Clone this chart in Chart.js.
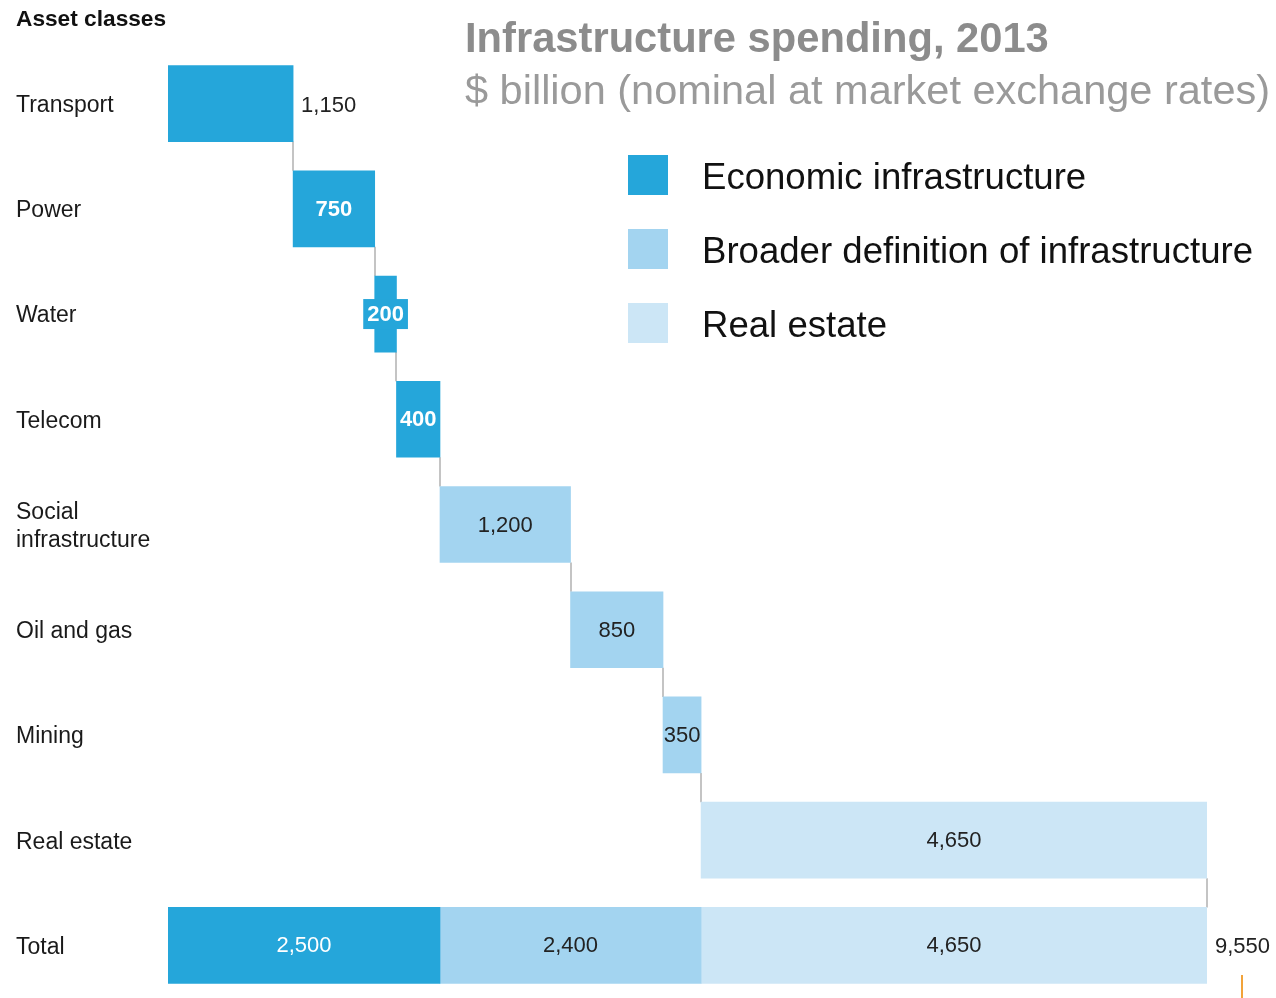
<!DOCTYPE html>
<html>
<head>
<meta charset="utf-8">
<script src="https://cdn.jsdelivr.net/npm/chart.js@4.4.1/dist/chart.umd.min.js"></script>
<style>
  html, body { margin: 0; padding: 0; background: #fff; }
  #wrap { width: 1276px; height: 998px; }
</style>
</head>
<body>
<div id="wrap"><canvas id="grafica" width="1276" height="998"></canvas></div>
<script>
// Asset classes, top to bottom
const categories = ['Transport', 'Power', 'Water', 'Telecom', ['Social', 'infrastructure'], 'Oil and gas', 'Mining', 'Real estate', 'Total'];
// $ billion per class, grouped by series
const economicValues = [1150, 750, 200, 400];
const broaderValues = [1200, 850, 350];
const realEstateValues = [4650];
const seriesNames = ['Economic infrastructure', 'Broader definition of infrastructure', 'Real estate'];
const seriesColors = ['#25a6da', '#a3d4f0', '#cce6f6'];

const FONT = '"Liberation Sans", Arial, sans-serif';
const fmt = v => v.toLocaleString('en-US');
const sum = a => a.reduce((s, v) => s + v, 0);

// build floating [start, end] bars for the waterfall, plus the stacked total row
const groups = [economicValues, broaderValues, realEstateValues];
const datasets = [];
let cum = 0, row = 0, totalStart = 0;
const rowEnds = [];
groups.forEach((vals, g) => {
  const data = new Array(categories.length).fill(null);
  vals.forEach(v => {
    data[row] = [cum, cum + v];
    cum += v;
    rowEnds.push(cum);
    row++;
  });
  const t = sum(vals);
  data[categories.length - 1] = [totalStart, totalStart + t];
  totalStart += t;
  datasets.push({
    label: seriesNames[g],
    data: data,
    backgroundColor: seriesColors[g],
    borderWidth: 0,
    barThickness: 76,
    grouped: false
  });
});
const grandTotal = totalStart;

const decorPlugin = {
  id: 'decor',
  beforeDatasetsDraw(chart) {
    // thin grey connectors between consecutive bars
    const ctx = chart.ctx, x = chart.scales.x, y = chart.scales.y;
    ctx.save();
    ctx.strokeStyle = '#c4c4c4';
    ctx.lineWidth = 2;
    rowEnds.forEach((end, i) => {
      const px = Math.round(x.getPixelForValue(end));
      ctx.beginPath();
      ctx.moveTo(px, y.getPixelForValue(i) + 38);
      ctx.lineTo(px, y.getPixelForValue(i + 1) - 38);
      ctx.stroke();
    });
    ctx.restore();
  },
  afterDatasetsDraw(chart) {
    const ctx = chart.ctx;
    const last = categories.length - 1;
    ctx.save();
    ctx.textBaseline = 'middle';
    chart.data.datasets.forEach((ds, d) => {
      chart.getDatasetMeta(d).data.forEach((el, i) => {
        const raw = ds.data[i];
        if (!raw) return;
        const { x, y, base } = el.getProps(['x', 'y', 'base'], true);
        const txt = fmt(raw[1] - raw[0]);
        if (d === 0 && i === 0) {
          // first step sits outside its bar
          ctx.font = '22px ' + FONT;
          ctx.fillStyle = '#222';
          ctx.textAlign = 'left';
          ctx.fillText(txt, x + 8, y + 2);
          return;
        }
        const light = d === 0;
        ctx.font = (light && i !== last ? 'bold ' : '') + '22px ' + FONT;
        const w = ctx.measureText(txt).width;
        const cx = (x + base) / 2;
        if (light && w + 4 > x - base) {
          ctx.fillStyle = ds.backgroundColor;
          ctx.fillRect(cx - w / 2 - 4, y - 15, w + 8, 30);
        }
        ctx.fillStyle = light ? '#fff' : '#222';
        ctx.textAlign = 'center';
        ctx.fillText(txt, cx, y + 1);
      });
    });
    // grand total beside the last bar
    const xs = chart.scales.x, ys = chart.scales.y;
    const ex = xs.getPixelForValue(grandTotal);
    ctx.font = '22px ' + FONT;
    ctx.fillStyle = '#222';
    ctx.textAlign = 'left';
    ctx.fillText(fmt(grandTotal), ex + 8, ys.getPixelForValue(last) + 2);
    ctx.strokeStyle = '#f2a33a';
    ctx.lineWidth = 2;
    ctx.beginPath();
    ctx.moveTo(1242, 975);
    ctx.lineTo(1242, 998);
    ctx.stroke();

    // headings
    ctx.textBaseline = 'middle';
    ctx.fillStyle = '#111';
    ctx.font = 'bold 22.7px ' + FONT;
    ctx.fillText('Asset classes', 16, 20);
    ctx.textBaseline = 'alphabetic';
    ctx.fillStyle = '#8c8c8c';
    ctx.font = 'bold 41.7px ' + FONT;
    ctx.fillText('Infrastructure spending, 2013', 465, 52);
    ctx.fillStyle = '#9a9a9a';
    ctx.font = '41.5px ' + FONT;
    ctx.fillText('$ billion (nominal at market exchange rates)', 465, 104);

    // legend
    ctx.textBaseline = 'middle';
    ctx.font = '36.6px ' + FONT;
    seriesNames.forEach((name, k) => {
      const top = 155 + k * 74;
      ctx.fillStyle = seriesColors[k];
      ctx.fillRect(628, top, 40, 40);
      ctx.fillStyle = '#111';
      ctx.fillText(name, 702, top + 24);
    });
    ctx.restore();
  }
};

new Chart(document.getElementById('grafica'), {
  type: 'bar',
  data: { labels: categories, datasets: datasets },
  options: {
    indexAxis: 'y',
    responsive: false,
    devicePixelRatio: 1,
    animation: false,
    layout: { padding: { left: 16, right: 69, top: 51, bottom: 0 } },
    plugins: { legend: { display: false }, tooltip: { enabled: false } },
    scales: {
      x: { display: false, min: 0, max: grandTotal },
      y: {
        grid: { display: false },
        border: { display: false },
        afterFit: s => {
          s.width = 152;
          s.paddingTop = 0;
          s.paddingBottom = 0;
        },
        ticks: {
          crossAlign: 'far',
          padding: 0,
          labelOffset: 2,
          color: '#1a1a1a',
          font: { family: FONT, size: 23, lineHeight: 1.22 }
        }
      }
    }
  },
  plugins: [decorPlugin]
});
</script>
</body>
</html>
